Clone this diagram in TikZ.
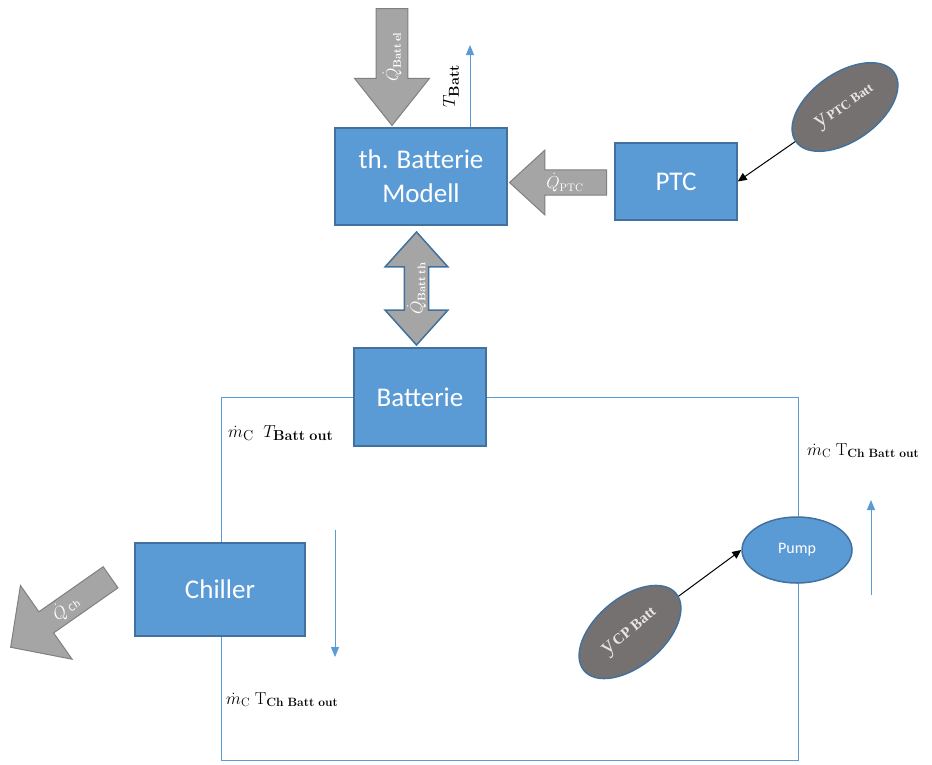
\documentclass[tikz,border=0pt]{standalone}
\usepackage[no-math]{fontspec}
\setmainfont{Carlito}
\newfontfamily\seriflabel{Liberation Serif}
\usetikzlibrary{shapes.geometric,shapes.arrows,arrows.meta}
\definecolor{boxblue}{HTML}{5B9BD5}
\definecolor{boxedge}{HTML}{41719C}
\definecolor{heatfill}{HTML}{A5A5A5}
\definecolor{heatedge}{HTML}{808080}
\definecolor{signalfill}{HTML}{767171}
\definecolor{signaltext}{HTML}{E7E6E6}
\begin{document}
\begin{tikzpicture}[x=1pt,y=-1pt,
  block/.style={draw=boxedge, line width=1.5pt, fill=boxblue, text=white,
    font=\fontsize{27}{34}\selectfont, align=center, inner sep=0pt},
  heat/.style={single arrow, draw=heatedge, fill=heatfill, line width=1pt,
    text=white, inner sep=0pt, single arrow head indent=0pt, anchor=tail,
    font=\fontsize{16}{18}\selectfont},
  heattwo/.style={double arrow, draw=boxedge, fill=heatfill, line width=1.5pt,
    text=white, inner sep=0pt, double arrow head indent=0pt,
    font=\fontsize{16}{18}\selectfont},
  signal/.style={ellipse, draw=boxedge, line width=1.5pt, fill=signalfill,
    text=signaltext, inner sep=0pt, minimum width=120, minimum height=68,
    font=\seriflabel},
  flow/.style={draw=boxblue, line width=1pt, -{Triangle[length=10pt,width=8pt]}},
  loopline/.style={draw=boxblue, line width=0.8pt},
  control/.style={draw=black, line width=1pt, -{Triangle[length=9pt,width=8pt]}},
  quantity/.style={font=\fontsize{18}{22}\selectfont, inner sep=0pt}
]
\useasboundingbox (0,0) rectangle (932,764);

% coolant loop (drawn first, the blocks sit on top of it)
\coordinate (loopsw) at (221,760);
\coordinate (loopse) at (798,760);
\node[block, minimum width=132, minimum height=98] (bat) at (420,397) {Batterie};
\draw[loopline] (bat.west) -| (loopsw) -- (loopse) |- (bat.east);
\node[block, minimum width=132, minimum height=98] at (420,397) {Batterie};

% blocks
\node[block, minimum width=172, minimum height=97] (model) at (421,176.5) {th. Batterie\\Modell};
\node[block, minimum width=122, minimum height=77] (ptc) at (676,181.5) {PTC};
\node[block, minimum width=170, minimum height=93] (chiller) at (220,589.5) {Chiller};
\node[ellipse, draw=boxedge, line width=1.5pt, fill=boxblue, text=white,
  minimum width=110, minimum height=66, inner sep=0pt,
  font=\fontsize{16}{18}\selectfont] (pump) at (797,550) {Pump};

% heat flows
\node[heat, rotate=90, shape border rotate=180, minimum height=117, minimum width=75,
  single arrow head extend=13.5, single arrow tip angle=77] (qbattel) at (392,8)
  {$\dot{Q}_{\mathbf{Batt\,el}}$};
\node[heat, shape border rotate=180, minimum height=97, minimum width=65,
  single arrow head extend=16, single arrow tip angle=85] (qptc) at (607,182.5)
  {$\dot{Q}_{\mathrm{PTC}}$};
\node[heattwo, rotate=90, minimum height=113, minimum width=63,
  double arrow head extend=16.5, double arrow tip angle=84] (qbattth) at (416.5,288.5)
  {$\dot{Q}_{\mathbf{Batt\,th}}$};
\node[heat, rotate=35, shape border rotate=180, minimum height=122, minimum width=90,
  single arrow head extend=25, single arrow tip angle=92] (qch) at (111,577)
  {$\dot{Q}$ {\fontsize{11}{11}\selectfont Ch}};

% battery temperature output
\coordinate (tbatttip) at (470,45);
\draw[flow] (model.north -| tbatttip) -- (tbatttip);
\node[quantity, rotate=90, font=\fontsize{19}{22}\selectfont] (tbatt) at (451,86) {$T_{\mathbf{Batt}}$};

% control signals
\node[signal, rotate=35] (yptc) at (845,107)
  {{\fontsize{24}{24}\selectfont y}\,{\fontsize{13}{13}\selectfont\bfseries PTC Batt}};
\draw[control] (yptc) -- (ptc.east);
\node[signal, rotate=40] (ycp) at (630,632)
  {{\fontsize{24}{24}\selectfont y}\,{\fontsize{15}{15}\selectfont\bfseries CP Batt}};
\draw[control] (ycp) -- (pump.west);

% flow direction in the loop
\coordinate (downtop) at (335,530);
\coordinate (downtip) at (335,657);
\draw[flow] (downtop) -- (downtip);
\coordinate (uptail) at (871,595);
\coordinate (uptip) at (871,500);
\draw[flow] (uptail) -- (uptip);

% loop states
\node[quantity, anchor=base west, font=\fontsize{19}{22}\selectfont] (stateout) at (228,437)
  {$\dot{m}_{\mathrm{C}}\;\;T_{\mathbf{Batt\ out}}$};
\node[quantity, anchor=base west] (statepump) at (807,455)
  {$\dot{m}_{\mathrm{C}}\;\mathrm{T}_{\mathbf{Ch\ Batt\ out}}$};
\node[quantity, anchor=base west] (statechiller) at (226,704)
  {$\dot{m}_{\mathrm{C}}\;\mathrm{T}_{\mathbf{Ch\ Batt\ out}}$};
\end{tikzpicture}
\end{document}
